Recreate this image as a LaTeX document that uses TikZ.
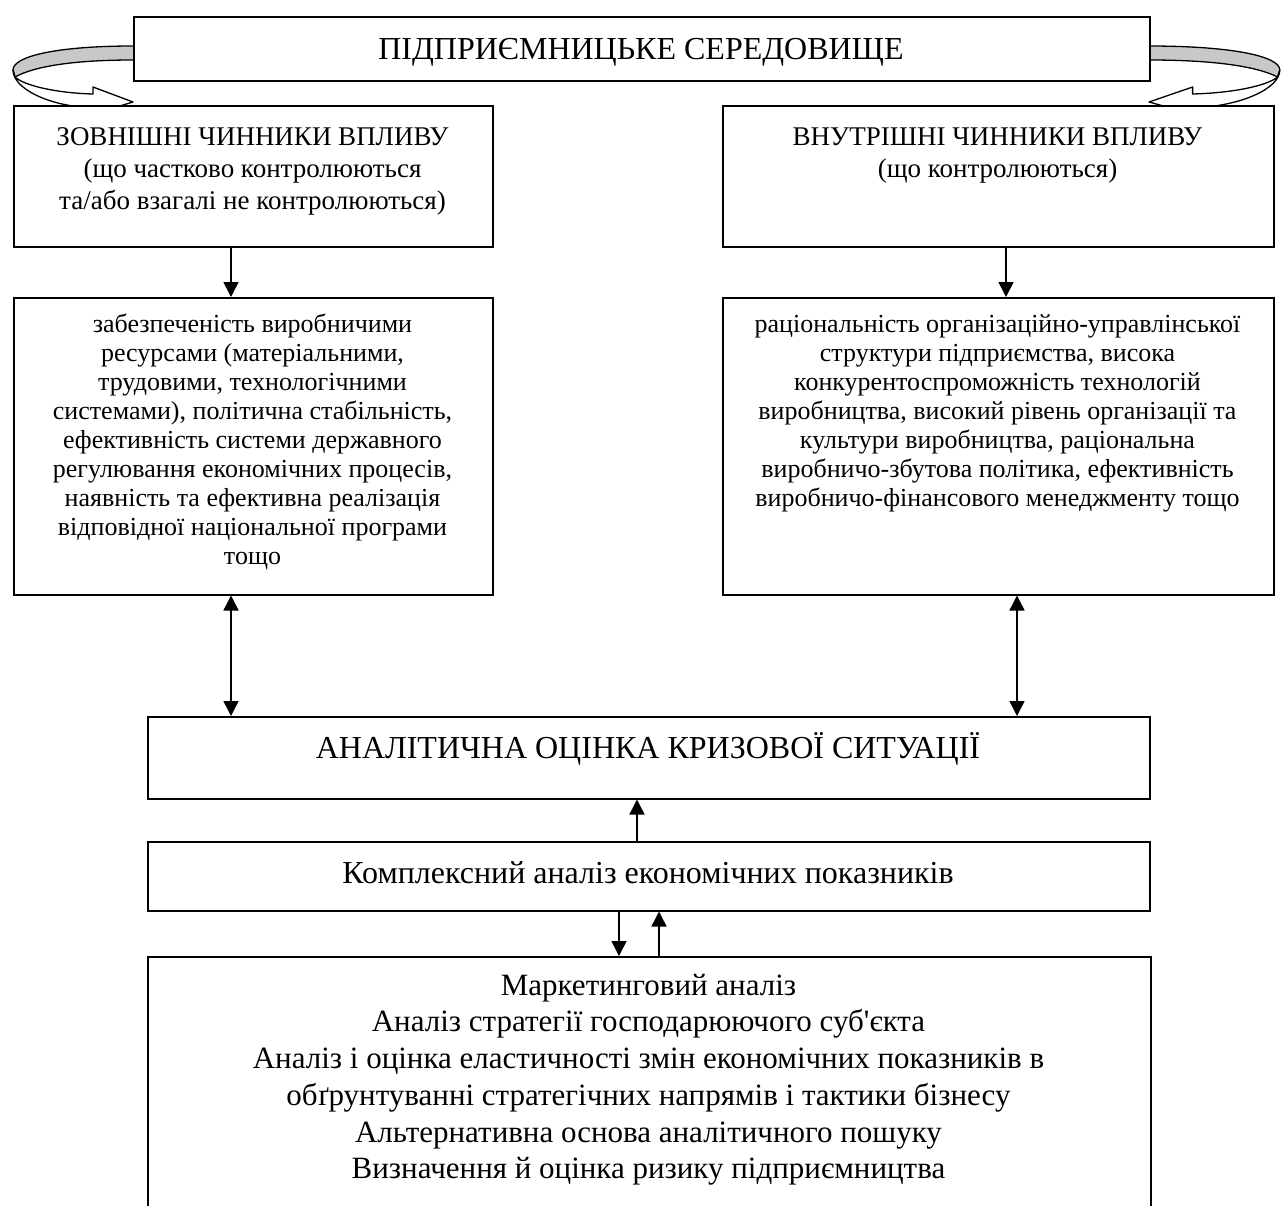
\documentclass[tikz,border=0pt]{standalone}
\usepackage{fontspec}
\setmainfont{Liberation Serif}
\usetikzlibrary{arrows.meta}
\definecolor{ribgray}{RGB}{200,200,200}
\newcommand\straightapos{{\addfontfeature{Ligatures=TeXOff}'}}
\begin{document}
\begin{tikzpicture}[x=1pt,y=-1pt,
 box/.style={draw, line width=1.5pt, fill=white, inner sep=0pt, anchor=north west},
 txt/.style={inner sep=0pt, align=center, anchor=north},
 ttl/.style={inner sep=0pt, anchor=base, font=\fontsize{32}{38}\selectfont},
 arr/.style={line width=1.5pt, -{Triangle[length=15pt,width=15pt]}},
 darr/.style={line width=1.5pt, {Triangle[length=15pt,width=15pt]}-{Triangle[length=15pt,width=15pt]}},
 rib/.style={draw, line width=1.3pt, line join=round}
]
\useasboundingbox (0,0) rectangle (1282,1205);
\clip (0,0) rectangle (1282,1205);
\fill[white] (0,0) rectangle (1282,1205);

% curled arrows
\begin{scope}[shift={(133,0)}, xscale=-1]
  \draw[rib, fill=ribgray] (0,46) .. controls (75,46) and (120,56) .. (120,70) -- (118,77) .. controls (98,66) and (58,60) .. (0,60);
  \draw[rib, fill=white] (120,70) .. controls (120,88) and (86,106) .. (40,108) -- (40,114) -- (0,102) -- (40,87) -- (40,94) .. controls (76,93) and (108,86) .. (118,77) -- cycle;
\end{scope}
\begin{scope}[shift={(1149,0)}, xscale=1.09]
  \draw[rib, fill=ribgray] (0,46) .. controls (75,46) and (120,56) .. (120,70) -- (118,77) .. controls (98,66) and (58,60) .. (0,60);
  \draw[rib, fill=white] (120,70) .. controls (120,88) and (86,106) .. (40,108) -- (40,114) -- (0,102) -- (40,87) -- (40,94) .. controls (76,93) and (108,86) .. (118,77) -- cycle;
\end{scope}

% boxes
\node[box, minimum width=1016, minimum height=64] (top) at (133,16) {};
\node[box, minimum width=479, minimum height=141] (b1l) at (13,105) {};
\node[box, minimum width=551, minimum height=141] (b1r) at (722,105) {};
\node[box, minimum width=479, minimum height=297] (b2l) at (13,297) {};
\node[box, minimum width=551, minimum height=297] (b2r) at (722,297) {};
\node[box, minimum width=1002, minimum height=82] (an) at (147,716) {};
\node[box, minimum width=1002, minimum height=69] (km) at (147,841) {};
\node[box, minimum width=1003, minimum height=262] (bt) at (147,956) {};

% texts
\node[ttl] (ttop) at (641,59) {ПІДПРИЄМНИЦЬКЕ СЕРЕДОВИЩЕ};
\node[txt, font=\fontsize{27}{32}\selectfont] (t1l) at (252.5,118) {\rule{0pt}{27pt}ЗОВНІШНІ ЧИННИКИ ВПЛИВУ\\(що частково контролюються\\та/або взагалі не контролюються)};
\node[txt, font=\fontsize{27}{32}\selectfont] (t1r) at (997.5,118) {\rule{0pt}{27pt}ВНУТРІШНІ ЧИННИКИ ВПЛИВУ\\(що контролюються)};
\node[txt, font=\fontsize{26}{29}\selectfont] (t2l) at (252.5,306) {\rule{0pt}{26pt}забезпеченість виробничими\\ресурсами (матеріальними,\\трудовими, технологічними\\системами), політична стабільність,\\ефективність системи державного\\регулювання економічних процесів,\\наявність та ефективна реалізація\\відповідної національної програми\\тощо};
\node[txt, font=\fontsize{26}{29}\selectfont] (t2r) at (997.5,306) {\rule{0pt}{26pt}раціональність організаційно-управлінської\\структури підприємства, висока\\конкурентоспроможність технологій\\виробництва, високий рівень організації та\\культури виробництва, раціональна\\виробничо-збутова політика, ефективність\\виробничо-фінансового менеджменту тощо};
\node[ttl] (tan) at (648,758) {АНАЛІТИЧНА ОЦІНКА КРИЗОВОЇ СИТУАЦІЇ};
\node[ttl] (tkm) at (648,883) {Комплексний аналіз економічних показників};
\node[txt, font=\fontsize{31}{36.7}\selectfont] (tbt) at (648.5,964) {\rule{0pt}{31pt}Маркетинговий аналіз\\Аналіз стратегії господарюючого суб\straightapos єкта\\Аналіз і оцінка еластичності змін економічних показників в\\обґрунтуванні стратегічних напрямів і тактики бізнесу\\Альтернативна основа аналітичного пошуку\\Визначення й оцінка ризику підприємництва};

% connectors
\draw[arr] (231,0 |- b1l.south) -- (231,0 |- b2l.north);
\draw[arr] (1006,0 |- b1r.south) -- (1006,0 |- b2r.north);
\draw[darr] (231,0 |- b2l.south) -- (231,0 |- an.north);
\draw[darr] (1017,0 |- b2r.south) -- (1017,0 |- an.north);
\draw[arr] (637,0 |- km.north) -- (637,0 |- an.south);
\draw[arr] (619,0 |- km.south) -- (619,0 |- bt.north);
\draw[arr] (659,0 |- bt.north) -- (659,0 |- km.south);
\end{tikzpicture}
\end{document}
